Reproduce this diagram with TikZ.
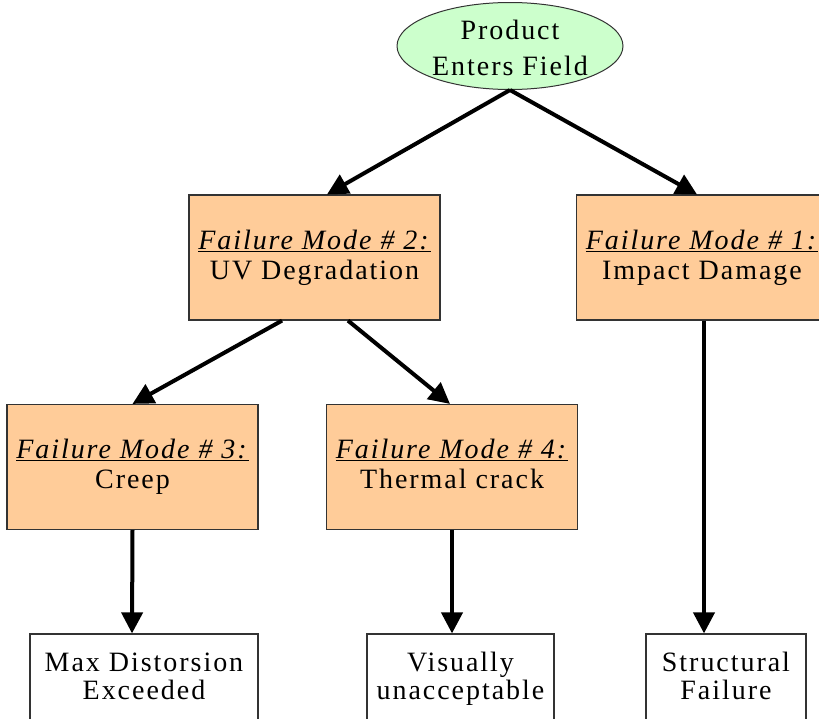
\documentclass[tikz,border=0pt]{standalone}
\usepackage{fontspec}
\setmainfont{Liberation Serif}[LetterSpace=7]
\usepackage{tikz}
\usetikzlibrary{shapes.geometric, arrows.meta}

\definecolor{modefill}{RGB}{255,204,153}
\definecolor{startfill}{RGB}{204,255,204}

\begin{document}
\begin{tikzpicture}[x=1pt, y=-1pt,
    mode/.style={draw=black!80, line width=1.2pt, fill=modefill, minimum width=251pt,
      minimum height=125pt, inner sep=0pt, align=center, text depth=6pt,
      font=\fontsize{28}{30}\selectfont},
    effect/.style={draw=black!80, line width=1.2pt, fill=white, minimum height=86pt,
      inner sep=0pt, align=center, text depth=2pt, font=\fontsize{28}{28}\selectfont},
    flow/.style={line width=4pt, -{Triangle[length=21pt, width=21pt]}}]
      \useasboundingbox (0,0) rectangle (819,718);
      \clip (0,0) rectangle (819,718);
      % start of the tree
      \node[ellipse, draw=black!80, line width=1pt, fill=startfill, minimum width=226pt,
        minimum height=87pt, inner sep=0pt, align=center, text height=60pt,
        font=\fontsize{28}{36}\selectfont] (enter) at (510,46) {Product\\Enters Field};
      % failure modes
      \node[mode] (mode2) at (314.5,257.5) {\underline{\textit{Failure Mode \# 2:}}\\UV Degradation};
      \node[mode] (mode1) at (702,257.5) {\underline{\textit{Failure Mode \# 1:}}\\Impact Damage};
      \node[mode] (mode3) at (132.5,467) {\underline{\textit{Failure Mode \# 3:}}\\Creep};
      \node[mode] (mode4) at (452,467) {\underline{\textit{Failure Mode \# 4:}}\\Thermal crack};
      % consequences
      \node[effect, minimum width=228pt] (distort) at (144,677) {Max Distorsion\\Exceeded};
      \node[effect, minimum width=187pt] (visual) at (460.5,677) {Visually\\unacceptable};
      \node[effect, minimum width=160pt] (struct) at (726,677) {Structural\\Failure};
      % arrows
      \draw[flow] (enter.south) -- ([xshift=12.5pt]mode2.north);
      \draw[flow] (enter.south) -- ([xshift=-5pt]mode1.north);
      \draw[flow] ([xshift=-32.5pt]mode2.south) -- (mode3.north);
      \draw[flow] ([xshift=33.5pt]mode2.south) -- ([xshift=-2pt]mode4.north);
      \draw[flow] (mode3.south) -- ([xshift=-12pt]distort.north);
      \draw[flow] (mode4.south) -- ([xshift=-8.5pt]visual.north);
      \draw[flow] ([xshift=2pt]mode1.south) -- ([xshift=-22pt]struct.north);
\end{tikzpicture}
\end{document}
